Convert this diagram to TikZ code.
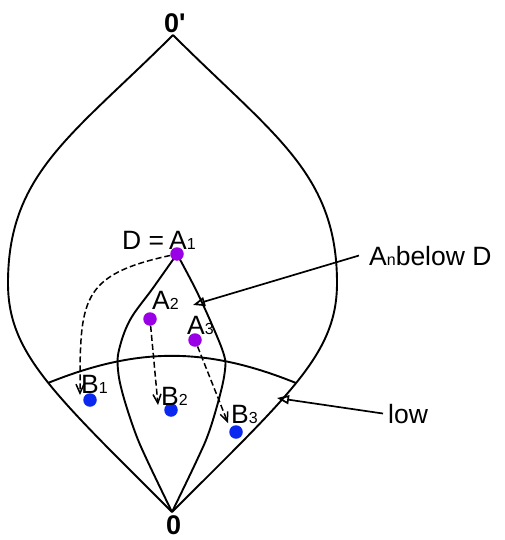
\documentclass[tikz,border=0pt]{standalone}
\usepackage{fontspec}
\setmainfont{Liberation Sans}
\usetikzlibrary{arrows.meta}
\definecolor{dotviolet}{RGB}{153,0,230}
\definecolor{dotblue}{RGB}{10,40,240}
\newcommand\lblfont{\fontsize{26.5}{28}\selectfont}
\newcommand\subs[1]{{\fontsize{16}{16}\selectfont #1}}
\begin{document}
\begin{tikzpicture}[x=1pt,y=-1pt,
  curve/.style={line width=1.9pt, line join=round},
  dotA/.style={circle, fill=dotviolet, inner sep=0pt, minimum size=13.5pt},
  dotB/.style={circle, fill=dotblue, inner sep=0pt, minimum size=13.5pt},
  lab/.style={inner sep=0pt, anchor=base west, font=\lblfont},
  zlab/.style={inner sep=0pt, anchor=base west, font=\fontsize{27}{29}\selectfont\bfseries},
  dasharrow/.style={line width=1.5pt, dash pattern=on 6pt off 3pt, -{Straight Barb[length=9pt,width=8pt]}},
  callout/.style={line width=1.7pt, -{Triangle[open,length=12pt,width=9pt]}}
]
\useasboundingbox (0,0) rectangle (504,540);
% key points
\coordinate (top) at (173,35);
\coordinate (bot) at (172,512);
\coordinate (lw) at (8,283);
\coordinate (rw) at (337,283);
\coordinate (lowL) at (48,383);
\coordinate (lowR) at (296,383);
% outer leaf
\draw[curve] (top) .. controls (73,135) and (8,173) .. (lw) .. controls (8,353) and (52,392) .. (bot);
\draw[curve] (top) .. controls (273,135) and (337,173) .. (rw) .. controls (337,353) and (292,392) .. (bot);
% low arc
\draw[curve] (lowL) to[bend left=22] (lowR);
% inner lens
\draw[curve] plot[smooth, tension=0.6] coordinates {(177,254) (153,288) (130,320) (119,350) (118,370) (123,395) (135,432) (147,460) (172,512)};
\draw[curve] plot[smooth, tension=0.6] coordinates {(177,254) (196,290) (213,327) (224,355) (225,370) (220,395) (209,432) (197,460) (172,512)};
% dots
\node[dotA] (a1) at (177,254) {};
\node[dotA] (a2) at (150,319) {};
\node[dotA] (a3) at (195,340) {};
\node[dotB] (b1) at (90,400) {};
\node[dotB] (b2) at (171,410) {};
\node[dotB] (b3) at (236,432) {};
% labels
\node[lab] (la1) at (122,249) {D =\hspace{5pt}A\subs{1}};
\node[lab] (la2) at (152,309) {A\subs{2}};
\node[lab] (la3) at (187,334) {A\subs{3}};
\node[lab] (lb1) at (81,393) {B\subs{1}};
\node[lab] (lb2) at (161,405) {B\subs{2}};
\node[lab] (lb3) at (231,423) {B\subs{3}};
\node[lab] (lan) at (369,265) {A\subs{n}below D};
\node[lab] (llow) at (388,423) {low};
\node[zlab] (ztop) at (164,33) {0\textquotesingle};
\node[zlab] (zbot) at (166,534) {0};
% dashed arrows
\coordinate (t1) at (80,395);
\coordinate (t2) at (158,405);
\coordinate (t3) at (228,423);
\draw[dasharrow] (a1) .. controls (80,275) and (80,300) .. (t1);
\draw[dasharrow] (a2) -- (t2);
\draw[dasharrow] (a3) -- (t3);
% callouts
\coordinate (tipn) at (193,305);
\coordinate (tipl) at (277,398);
\draw[callout] ([xshift=-10pt]lan.west) -- (tipn);
\draw[callout] ([xshift=-5pt]llow.west) -- (tipl);
\end{tikzpicture}
\end{document}
